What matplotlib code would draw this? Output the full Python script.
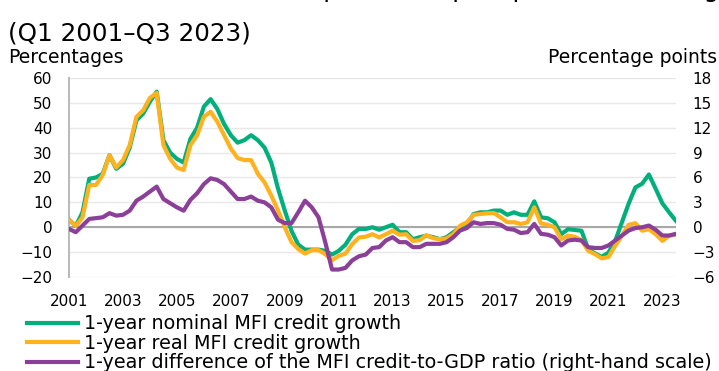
import numpy as np
import matplotlib.pyplot as plt

# quarterly data, Q1 2001 - Q3 2023
nominal = [3, 0.5, 6, 19.5, 20, 21.5, 29, 23.5, 25.5, 32, 43, 45.7, 50.5, 54.5, 35, 30,
           27.5, 26, 35.5, 40, 48.5, 51.5, 47.5, 41.5, 37, 34, 35, 37, 35, 32, 26, 15.5,
           6.7, -1.5, -7, -9, -9, -9, -9.5, -11, -9.5, -7, -2.8, -0.7,
           -0.7, 0, -1, 0, 1, -2, -2, -4.8, -4, -3.4, -4, -4.8, -4, -2, 0, 1.3,
           5.3, 6, 6, 6.7, 6.7, 5, 6, 5, 5, 10.4, 4, 3.6,
           2, -2.8, -0.8, -1.1, -1.4, -8.8, -10.5, -11.9, -10.2, -5.5, 2, 9.5,
           16, 17.5, 21.2, 15.5, 9.6, 6, 2.6]
real = [3, 0.5, 4, 17, 17, 21, 29, 24, 27, 33, 44.4, 47, 52, 54, 33, 27.5,
        24, 23, 33, 37, 44.4, 46.4, 42.4, 37, 31.6, 27.8, 27, 27, 21.5, 18, 12.7, 6.7,
        0, -6, -8.8, -10.6, -9.2, -9.2, -10.8, -13.3, -11.5, -10.6, -6.8, -4.1,
        -3.8, -2.8, -4.1, -2.8, -1.4, -3, -2.8, -5.5, -5.2, -3.2, -4.4, -4.8, -4.5, -2.8, 0.6, 2,
        5, 5.3, 5.6, 5.7, 4, 2, 2, 1.3, 2, 8, 1.5, 1,
        0, -4.8, -3.4, -3.8, -5.2, -9.5, -10.8, -12.5, -12, -7.5, -3.4, 1,
        1.6, -1.4, -0.8, -2.8, -5.5, -3.4, -3]
ratio_diff = [-0.2, -0.6, 0.2, 1.0, 1.1, 1.2, 1.7, 1.4, 1.5, 2.0, 3.2, 3.7, 4.3, 4.9, 3.4, 2.9,
              2.4, 2.0, 3.3, 4.1, 5.2, 5.9, 5.7, 5.2, 4.3, 3.4, 3.4, 3.7, 3.2, 3.0, 2.4, 0.9,
              0.5, 0.5, 1.8, 3.2, 2.4, 1.2, -1.8, -5.1, -5.1, -4.9, -4.0, -3.5,
              -3.3, -2.5, -2.4, -1.6, -1.2, -1.8, -1.8, -2.4, -2.4, -2.0, -2.0, -2.0, -1.8, -1.2, -0.4, -0.1,
              0.6, 0.4, 0.5, 0.5, 0.3, -0.2, -0.3, -0.7, -0.6, 0.4, -0.8, -0.9,
              -1.2, -2.2, -1.6, -1.5, -1.6, -2.4, -2.5, -2.5, -2.2, -1.6, -1.0, -0.4,
              -0.1, 0, 0.2, -0.3, -1.0, -1.0, -0.8]

t = 2001 + np.arange(len(nominal)) / 4
years = np.arange(2001, 2024, 2)
left_ticks = np.arange(-20, 61, 10)
right_ticks = np.arange(-6, 19, 3)

labels = ['1-year nominal MFI credit growth',
          '1-year real MFI credit growth',
          '1-year difference of the MFI credit-to-GDP ratio (right-hand scale)']

green = '#00AF7C'
orange = '#FFB21E'
purple = '#8B3F98'

plt.rcParams['font.family'] = 'DejaVu Sans'
fig = plt.figure(figsize=(7.19, 3.71), dpi=100)
ax = fig.add_axes([0.096, 0.2534, 0.844, 0.5364])


def minus(v, p):
    return f'{int(v)}'.replace('-', '\u2212')


for y in left_ticks:
    ax.axhline(y, color='#E8E8E8', lw=1, zorder=0)
ax.axhline(0, color='#A8A8A8', lw=1.5, zorder=1)

l1, = ax.plot(t, nominal, color=green, lw=3, zorder=3)
l2, = ax.plot(t, real, color=orange, lw=3, zorder=4)

ax.set_xlim(2001, 2023.5)
ax.set_ylim(-20, 60)
ax.set_yticks(left_ticks)
ax.set_xticks(years)
ax.tick_params(length=0, labelsize=11, pad=12)
for s in ['top', 'right', 'bottom']:
    ax.spines[s].set_visible(False)
ax.spines['left'].set_color('#BBBBBB')
ax.spines['left'].set_linewidth(1.5)
ax.yaxis.set_major_formatter(plt.FuncFormatter(minus))

ax2 = ax.twinx()
l3, = ax2.plot(t, ratio_diff, color=purple, lw=3, zorder=5)
ax2.set_ylim(-6, 18)
ax2.set_yticks(right_ticks)
ax2.tick_params(length=0, labelsize=11, pad=12)
for s in ax2.spines.values():
    s.set_visible(False)
ax2.yaxis.set_major_formatter(plt.FuncFormatter(minus))

# first title line sits mostly above the image edge, as in the source
fig.text(0.011, 1.009, 'Chart A  MFI credit developments in past periods of strong growth in MFI credit',
         fontsize=17.5, va='baseline', ha='left')
fig.text(0.011, 0.91, '(Q1 2001\u2013Q3 2023)', fontsize=17.7, va='center', ha='left')
fig.text(0.011, 0.845, 'Percentages', fontsize=13.5, va='center', ha='left')
fig.text(0.997, 0.845, 'Percentage points', fontsize=13.5, va='center', ha='right')

fig.legend([l1, l2, l3], labels,
           loc='upper left', bbox_to_anchor=(0.0375, 0.153), frameon=False,
           fontsize=13.8, handlelength=2.65, handletextpad=0.3, labelspacing=0.03,
           borderpad=0, borderaxespad=0)

fig.savefig('out.png', dpi=100)
